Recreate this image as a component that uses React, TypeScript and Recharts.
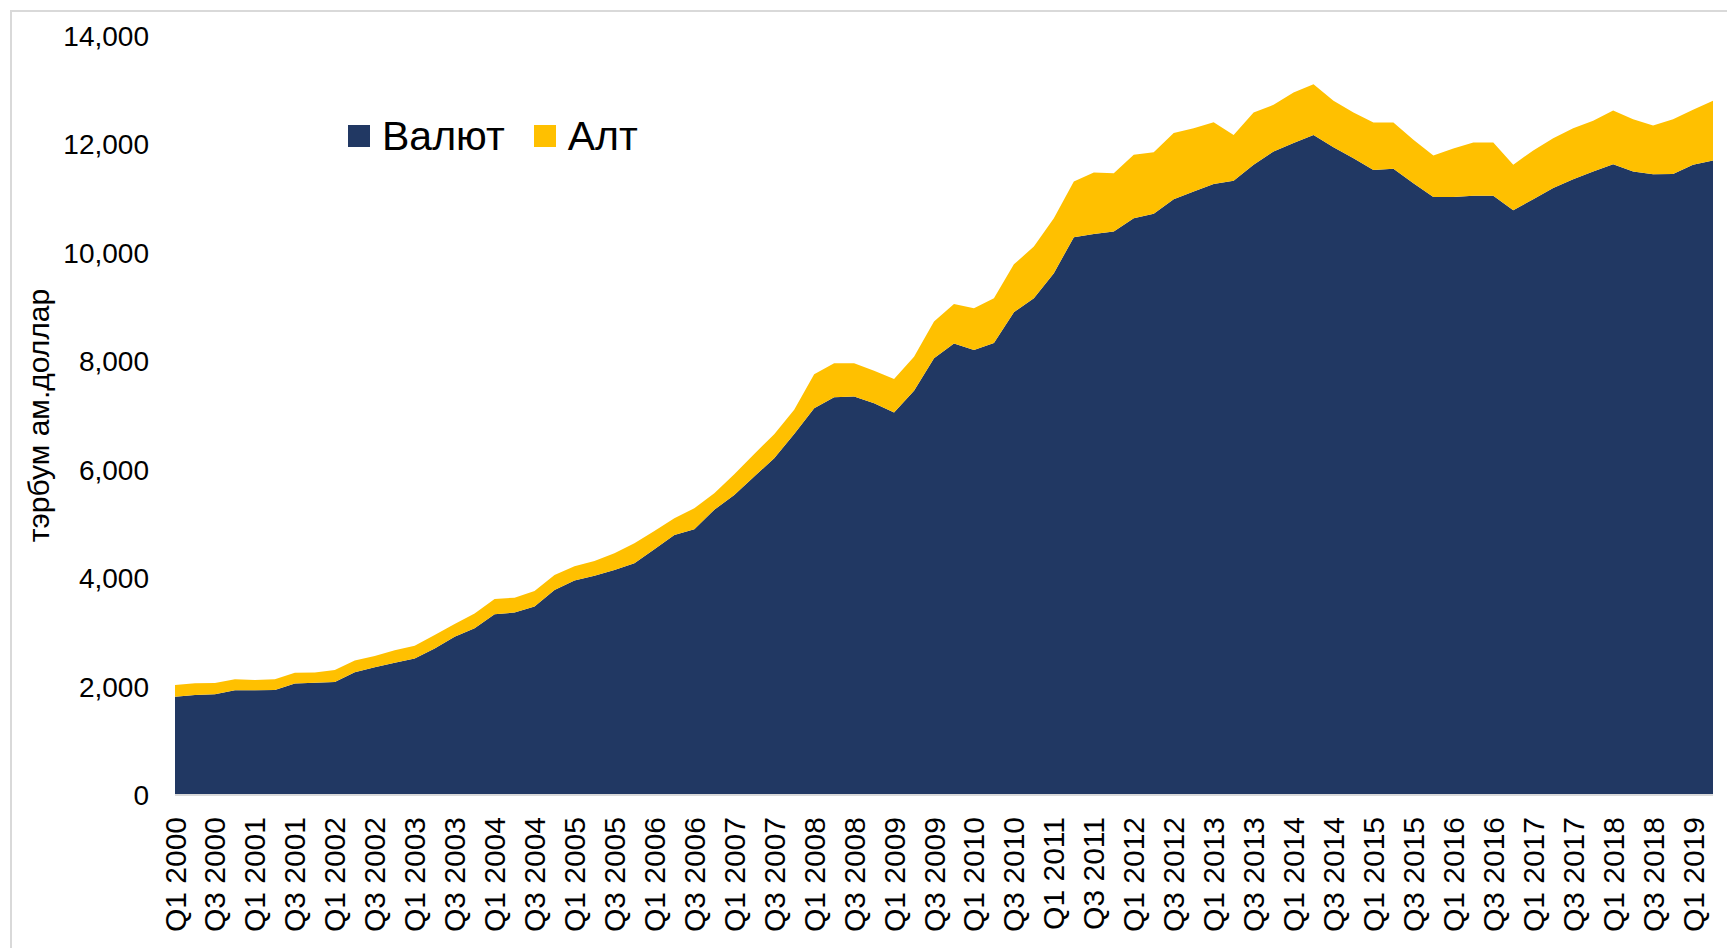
import React from 'react';
import { AreaChart, Area, XAxis, YAxis, Legend, Label } from 'recharts';

const years = [2000, 2001, 2002, 2003, 2004, 2005, 2006, 2007, 2008, 2009, 2010, 2011, 2012, 2013, 2014, 2015, 2016, 2017, 2018, 2019];
const quarters = ['Q1', 'Q2', 'Q3', 'Q4'];
const pointCount = 78; // Q1 2000 .. Q2 2019

const categories: string[] = [];
for (const yr of years) {
  for (const q of quarters) {
    if (categories.length < pointCount) categories.push(`${q} ${yr}`);
  }
}

// Foreign currency reserves (billion USD)
const valyut = [
  1810, 1845, 1860, 1930, 1930, 1935, 2055, 2070, 2085, 2265,
  2355, 2440, 2520, 2700, 2920, 3075, 3335, 3365, 3475, 3780,
  3955, 4045, 4150, 4275, 4535, 4795, 4900, 5260, 5535, 5875,
  6210, 6660, 7135, 7335, 7350, 7225, 7055, 7455, 8055, 8330,
  8210, 8335, 8905, 9165, 9625, 10290, 10350, 10395, 10640, 10720,
  10990, 11130, 11270, 11330, 11625, 11870, 12025, 12175, 11950, 11745,
  11530, 11550, 11285, 11030, 11030, 11055, 11055, 10785, 10990, 11195,
  11360, 11500, 11635, 11500, 11450, 11455, 11625, 11705,
];

// Gold reserves (billion USD)
const alt = [
  220, 215, 205, 205, 190, 200, 200, 190, 220, 215,
  210, 230, 235, 250, 235, 275, 280, 275, 290, 280,
  265, 270, 310, 370, 335, 310, 390, 305, 380, 415,
  445, 445, 625, 630, 615, 600, 620, 630, 680, 725,
  770, 830, 885, 950, 1015, 1025, 1130, 1075, 1170, 1135,
  1220, 1170, 1140, 845, 965, 860, 935, 935, 855, 845,
  875, 855, 800, 765, 895, 980, 980, 840, 900, 920,
  940, 935, 990, 965, 900, 1010, 1015, 1100,
];

const yTicks = [0, 2000, 4000, 6000, 8000, 10000, 12000, 14000];

const seriesNames = { valyut: 'Валют', alt: 'Алт' };
const NAVY = '#213863';
const GOLD = '#FFC000';
const FONT = '"Liberation Sans", Arial, sans-serif';

const data = categories.map((c, i) => ({ q: c, valyut: valyut[i], alt: alt[i] }));

const XTick = (props: any) => {
  const { x, y, payload } = props;
  return (
    <text
      x={x}
      y={y}
      transform={`rotate(-90, ${x}, ${y})`}
      textAnchor="end"
      dominantBaseline="central"
      fontSize={30}
      fontFamily={FONT}
      fill="#000"
    >
      {payload.value}
    </text>
  );
};

const legendItems = [
  { name: seriesNames.valyut, color: NAVY },
  { name: seriesNames.alt, color: GOLD },
];

const renderLegend = () => (
  <div style={{ display: 'flex', alignItems: 'center', fontFamily: FONT, fontSize: 41, color: '#000', whiteSpace: 'nowrap' }}>
    {legendItems.map((it) => (
      <div key={it.name} style={{ display: 'flex', alignItems: 'center', marginRight: 29 }}>
        <span style={{ display: 'inline-block', width: 22, height: 22, background: it.color, marginRight: 12 }} />
        <span style={{ lineHeight: '46px' }}>{it.name}</span>
      </div>
    ))}
  </div>
);

export default function App() {
  return (
    <div style={{ position: 'absolute', left: 0, top: 0, width: 1727, height: 948, background: '#fff', overflow: 'hidden' }}>
      <div style={{ position: 'absolute', left: 10, top: 10, width: 1740, height: 960, border: '2px solid #d9d9d9', boxSizing: 'border-box' }} />
      <AreaChart
        width={1727}
        height={948}
        data={data}
        margin={{ top: 36, right: 14, bottom: 0, left: 0 }}
        style={{ position: 'absolute', left: 0, top: 0 }}
      >
        <XAxis
          dataKey="q"
          interval={1}
          height={153}
          tickLine={false}
          tickMargin={16}
          axisLine={{ stroke: '#d9d9d9', strokeWidth: 2 }}
          tick={<XTick />}
        />
        <YAxis
          width={175}
          domain={[0, 14000]}
          ticks={yTicks}
          axisLine={false}
          tickLine={false}
          tickMargin={20}
          tick={{ fontSize: 28, fontFamily: FONT, fill: '#000' }}
          tickFormatter={(v: number) => v.toLocaleString('en-US')}
        >
          <Label
            content={(p: any) => {
              const vb = p.viewBox || {};
              const cy = (vb.y || 0) + (vb.height || 0) / 2;
              return (
                <text
                  x={38}
                  y={cy}
                  transform={`rotate(-90, 38, ${cy})`}
                  textAnchor="middle"
                  dominantBaseline="central"
                  fontSize={30}
                  fontFamily={FONT}
                  fill="#000"
                >
                  тэрбум ам.доллар
                </text>
              );
            }}
          />
        </YAxis>
        <Legend
          layout="horizontal"
          verticalAlign="middle"
          align="center"
          content={renderLegend}
          wrapperStyle={{ left: 348, top: 113, width: 'auto' }}
        />
        <Area
          type="linear"
          dataKey="valyut"
          name={seriesNames.valyut}
          stackId="1"
          stroke="none"
          fill={NAVY}
          fillOpacity={1}
          isAnimationActive={false}
        />
        <Area
          type="linear"
          dataKey="alt"
          name={seriesNames.alt}
          stackId="1"
          stroke="none"
          fill={GOLD}
          fillOpacity={1}
          isAnimationActive={false}
        />
      </AreaChart>
    </div>
  );
}
